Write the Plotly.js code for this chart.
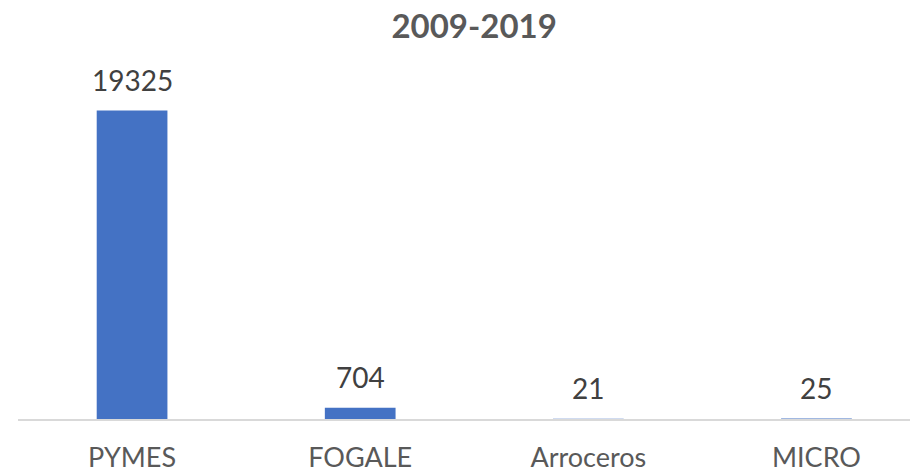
<!DOCTYPE html>
<html>
<head>
<meta charset="utf-8">
<script src="https://cdn.plot.ly/plotly-3.0.1.min.js"></script>
<style>html,body{margin:0;padding:0;background:#fff;}#chart{width:910px;height:472px;}</style>
</head>
<body>
<div id="chart"></div>
<script>
const categories = ["PYMES", "FOGALE", "Arroceros", "MICRO"];
const values = [19325, 704, 21, 25];
const chartTitle = "2009-2019";

const FONT = "Lato, 'Noto Sans', sans-serif";

const trace = {
  type: "bar",
  x: categories,
  y: values,
  width: 0.31,
  marker: { color: "#4472C4" },
  hoverinfo: "x+y"
};

const annotations = categories.map((c, i) => ({
  x: c, y: values[i], xref: "x", yref: "y",
  text: String(values[i]),
  showarrow: false, yanchor: "bottom", yshift: 12,
  font: { family: FONT, size: 28, color: "#404040" }
}));

const layout = {
  width: 910, height: 472,
  margin: { l: 18, r: 0, t: 20, b: 53 },
  paper_bgcolor: "#ffffff", plot_bgcolor: "#ffffff",
  showlegend: false,
  title: {
    text: "<b>" + chartTitle + "</b>",
    x: 0.521, xref: "container", xanchor: "center",
    y: 0.945, yref: "container", yanchor: "middle",
    font: { family: FONT, size: 33, color: "#595959" }
  },
  xaxis: {
    type: "category",
    range: [-0.5, 3.41],
    showline: true, linecolor: "#D9D9D9", linewidth: 1.5,
    showgrid: false, zeroline: false, ticks: "",
    ticklabelstandoff: 14,
    tickfont: { family: FONT, size: 27, color: "#595959" },
    fixedrange: true
  },
  yaxis: {
    range: [0, 25000],
    showgrid: false, zeroline: false, showline: false,
    showticklabels: false, ticks: "", fixedrange: true
  },
  annotations: annotations
};

Plotly.newPlot("chart", [trace], layout, { displayModeBar: false, staticPlot: true });
</script>
</body>
</html>
